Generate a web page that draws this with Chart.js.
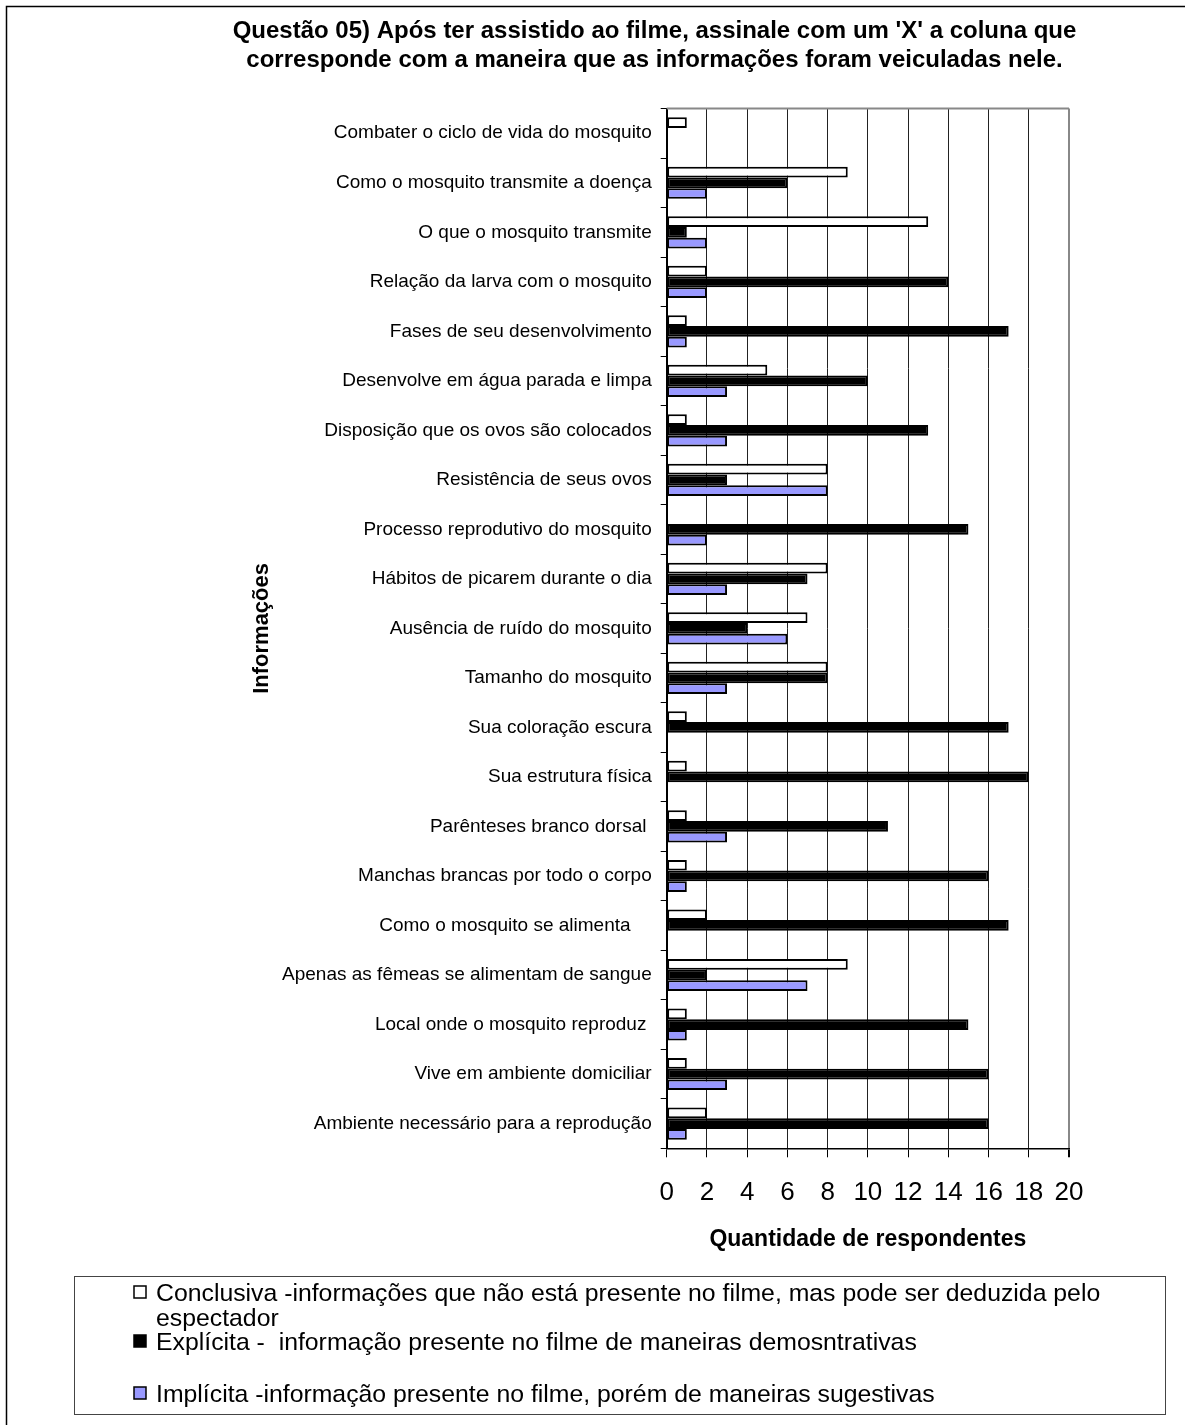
<!DOCTYPE html>
<html>
<head>
<meta charset="utf-8">
<script src="https://cdn.jsdelivr.net/npm/chart.js@4.4.1/dist/chart.umd.min.js"></script>
<style>
  html, body { margin: 0; padding: 0; background: #fff; }
  #wrap { width: 1185px; height: 1425px; }
</style>
</head>
<body>
<div id="wrap"><canvas id="canvas" width="1185" height="1425"></canvas></div>
<script>
// categories listed top to bottom, as in the picture
var categories = [
  "Combater o ciclo de vida do mosquito",
  "Como o mosquito transmite a doença",
  "O que o mosquito transmite",
  "Relação da larva com o mosquito",
  "Fases de seu desenvolvimento",
  "Desenvolve em água parada e limpa",
  "Disposição que os ovos são colocados",
  "Resistência de seus ovos",
  "Processo reprodutivo do mosquito",
  "Hábitos de picarem durante o dia",
  "Ausência de ruído do mosquito",
  "Tamanho do mosquito",
  "Sua coloração escura",
  "Sua estrutura física",
  "Parênteses branco dorsal ",
  "Manchas brancas por todo o corpo",
  "Como o mosquito se alimenta    ",
  "Apenas as fêmeas se alimentam de sangue",
  "Local onde o mosquito reproduz ",
  "Vive em ambiente domiciliar",
  "Ambiente necessário para a reprodução"
];

var conclusiva = [1, 9, 13, 2, 1, 5, 1, 8, 0, 8, 7, 8, 1, 1, 1, 1, 2, 9, 1, 1, 2];
var explicita  = [0, 6, 1, 14, 17, 10, 13, 3, 15, 7, 4, 8, 17, 18, 11, 16, 17, 2, 15, 16, 16];
var implicita  = [0, 2, 2, 2, 1, 3, 3, 8, 2, 3, 6, 3, 0, 0, 3, 1, 0, 7, 1, 3, 1];

var xTicks = [0, 2, 4, 6, 8, 10, 12, 14, 16, 18, 20];

var seriesNames = [
  "Conclusiva -informações que não está presente no filme, mas pode ser deduzida pelo espectador",
  "Explícita -  informação presente no filme de maneiras demosntrativas",
  "Implícita -informação presente no filme, porém de maneiras sugestivas"
];

var titleLines = [
  "Questão 05) Após ter assistido ao filme, assinale com um 'X' a coluna que",
  "corresponde com a maneira que as informações foram veiculadas nele."
];

var FONT = "'Liberation Sans', Arial, sans-serif";

// title, outer frame, plot frame and the boxed legend
var ksDecor = {
  id: 'ksDecor',
  afterDraw: function (chart) {
    var ctx = chart.ctx;
    var area = chart.chartArea;
    ctx.save();

    // outer frame (top + left only)
    ctx.strokeStyle = '#000';
    ctx.lineWidth = 1.5;
    ctx.beginPath();
    ctx.moveTo(6.5, 1425);
    ctx.lineTo(6.5, 6.5);
    ctx.lineTo(1185, 6.5);
    ctx.stroke();

    // plot area top border
    ctx.strokeStyle = '#888';
    ctx.lineWidth = 2;
    ctx.beginPath();
    ctx.moveTo(area.left, area.top);
    ctx.lineTo(area.right, area.top);
    ctx.stroke();

    // title
    ctx.fillStyle = '#000';
    ctx.font = 'bold 24px ' + FONT;
    ctx.textAlign = 'center';
    ctx.textBaseline = 'alphabetic';
    ctx.fillText(titleLines[0], 654.5, 38);
    ctx.fillText(titleLines[1], 654.5, 67);

    // legend box
    ctx.strokeStyle = '#444';
    ctx.lineWidth = 1;
    ctx.strokeRect(74.5, 1276.5, 1091, 138);

    var rowBase = [1301, 1350, 1402];
    var textX = 156;
    var maxW = 1000;
    ctx.font = '24.8px ' + FONT;
    ctx.textAlign = 'left';
    chart.data.datasets.forEach(function (ds, i) {
      // wrap words
      var words = ds.label.split(' ');
      var lines = [];
      var cur = '';
      words.forEach(function (w) {
        var test = cur === '' ? w : cur + ' ' + w;
        if (ctx.measureText(test).width > maxW && cur !== '') {
          lines.push(cur);
          cur = w;
        } else {
          cur = test;
        }
      });
      lines.push(cur);
      var b = rowBase[i];
      ctx.fillStyle = ds.backgroundColor;
      ctx.fillRect(134, b - 15, 12, 12);
      ctx.strokeStyle = '#000';
      ctx.lineWidth = 1.5;
      ctx.strokeRect(134, b - 15, 12, 12);
      ctx.fillStyle = '#000';
      lines.forEach(function (ln, j) {
        ctx.fillText(ln, textX, b + j * 25);
      });
    });
    ctx.restore();
  }
};

var ctx = document.getElementById('canvas').getContext('2d');
var myChart = new Chart(ctx, {
  type: 'bar',
  data: {
    labels: categories,
    datasets: [
      { label: seriesNames[0], data: conclusiva, backgroundColor: '#FFFFFF', borderColor: '#000', borderWidth: 2, borderSkipped: false },
      { label: seriesNames[1], data: explicita, backgroundColor: '#000000', borderColor: '#000', borderWidth: 2, borderSkipped: false },
      { label: seriesNames[2], data: implicita, backgroundColor: '#9999FF', borderColor: '#000', borderWidth: 2, borderSkipped: false }
    ]
  },
  options: {
    indexAxis: 'y',
    responsive: false,
    animation: false,
    layout: { padding: { top: 108.5, right: 116, bottom: 172, left: 0 } },
    datasets: { bar: { categoryPercentage: 0.65, barPercentage: 1 } },
    plugins: {
      legend: { display: false },
      title: { display: false },
      tooltip: { enabled: false }
    },
    scales: {
      x: {
        min: 0,
        max: 20,
        afterBuildTicks: function (scale) {
          scale.ticks = xTicks.map(function (v) { return { value: v }; });
        },
        ticks: { color: '#000', font: { family: FONT, size: 26 }, padding: 20, maxRotation: 0, autoSkip: false },
        grid: {
          color: function (c) { return c.tick && c.tick.value === 20 ? '#888' : '#222'; },
          lineWidth: function (c) { return c.tick && c.tick.value === 20 ? 2 : 1; },
          tickColor: '#000',
          tickLength: 9
        },
        border: { color: '#000', width: 1.5 },
        title: {
          display: true,
          text: 'Quantidade de respondentes',
          color: '#000',
          font: { family: FONT, size: 23, weight: 'bold' },
          padding: { top: 0, bottom: 0 }
        },
        afterFit: function (scale) { scale.height = 104.7; }
      },
      y: {
        ticks: { color: '#000', font: { family: FONT, size: 19 }, padding: 9, autoSkip: false },
        grid: { drawOnChartArea: false, offset: true, tickLength: 6, tickColor: '#000', color: '#000' },
        border: { color: '#000', width: 2 },
        title: {
          display: true,
          text: 'Informações',
          color: '#000',
          font: { family: FONT, size: 22, weight: 'bold' },
          padding: { top: 249, bottom: 0 }
        },
        afterFit: function (scale) { scale.width = 666.7; }
      }
    }
  },
  plugins: [ksDecor]
});
</script>
</body>
</html>
